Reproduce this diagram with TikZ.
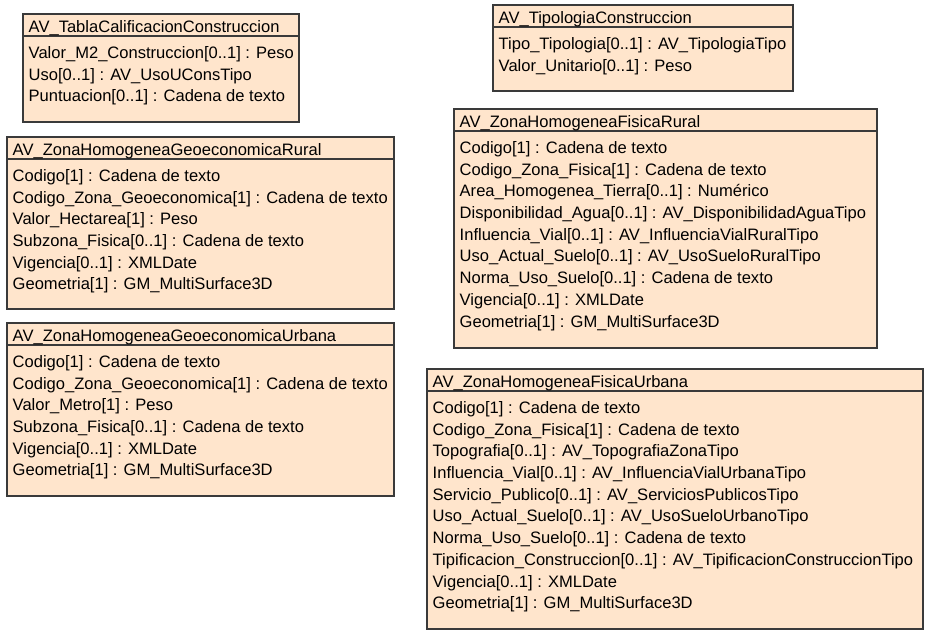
\documentclass[tikz,border=0pt]{standalone}
\usepackage{fontspec}
\setmainfont{Liberation Sans}
\definecolor{classfill}{RGB}{255,229,204}
\definecolor{classline}{RGB}{58,58,58}
\tikzset{
  cls/.style={draw=classline, fill=classfill, line width=1.2pt, anchor=north west,
    inner sep=0pt, outer sep=0pt},
  ctitle/.style={anchor=base west, inner sep=0pt, font=\fontsize{16.55}{21.7}\selectfont},
  cattr/.style={anchor=base west, inner sep=0pt, font=\fontsize{16.55}{21.7}\selectfont},
  csep/.style={draw=classline, line width=1.2pt}
}
\begin{document}
\begin{tikzpicture}[x=1pt, y=-1pt]
      \useasboundingbox (0,0) rectangle (930,636);
      % class frames
      \node[cls, minimum width=276pt, minimum height=108pt] (tabla) at (23,14) {};
      \node[cls, minimum width=387pt, minimum height=172pt] (georural) at (7,137) {};
      \node[cls, minimum width=387pt, minimum height=173pt] (geourbana) at (7,323) {};
      \node[cls, minimum width=300pt, minimum height=86pt] (tipologia) at (493,5) {};
      \node[cls, minimum width=423pt, minimum height=239pt] (fisrural) at (454,109) {};
      \node[cls, minimum width=496pt, minimum height=260pt] (fisurbana) at (427,369) {};
      % title compartments
      \begin{scope}[csep]
        \draw ([yshift=-22pt]tabla.north west) -- ([yshift=-22pt]tabla.north east);
        \draw ([yshift=-22pt]georural.north west) -- ([yshift=-22pt]georural.north east);
        \draw ([yshift=-22pt]geourbana.north west) -- ([yshift=-22pt]geourbana.north east);
        \draw ([yshift=-22pt]tipologia.north west) -- ([yshift=-22pt]tipologia.north east);
        \draw ([yshift=-22pt]fisrural.north west) -- ([yshift=-22pt]fisrural.north east);
        \draw ([yshift=-22pt]fisurbana.north west) -- ([yshift=-22pt]fisurbana.north east);
      \end{scope}
      \node[ctitle] (tablaT) at ([xshift=5.5pt, yshift=-18.3pt]tabla.north west)
        {AV\_TablaCalificacionConstruccion};
      \node[ctitle] (georuralT) at ([xshift=5.5pt, yshift=-18.3pt]georural.north west)
        {AV\_ZonaHomogeneaGeoeconomicaRural};
      \node[ctitle] (geourbanaT) at ([xshift=5.5pt, yshift=-18.3pt]geourbana.north west)
        {AV\_ZonaHomogeneaGeoeconomicaUrbana};
      \node[ctitle] (tipologiaT) at ([xshift=5.5pt, yshift=-18.3pt]tipologia.north west)
        {AV\_TipologiaConstruccion};
      \node[ctitle] (fisruralT) at ([xshift=5.5pt, yshift=-18.3pt]fisrural.north west)
        {AV\_ZonaHomogeneaFisicaRural};
      \node[ctitle] (fisurbanaT) at ([xshift=5.5pt, yshift=-18.3pt]fisurbana.north west)
        {AV\_ZonaHomogeneaFisicaUrbana};
      % attributes
      \node[cattr] (tablaA) at ([xshift=5.5pt, yshift=-44.5pt]tabla.north west)
        {\begin{tabular}[t]{@{}l@{}}
         Valor\_M2\_Construccion[0..1] : Peso\\
         Uso[0..1] : AV\_UsoUConsTipo\\
         Puntuacion[0..1] : Cadena de texto
         \end{tabular}};
      \node[cattr] (georuralA) at ([xshift=5.5pt, yshift=-44.5pt]georural.north west)
        {\begin{tabular}[t]{@{}l@{}}
         Codigo[1] : Cadena de texto\\
         Codigo\_Zona\_Geoeconomica[1] : Cadena de texto\\
         Valor\_Hectarea[1] : Peso\\
         Subzona\_Fisica[0..1] : Cadena de texto\\
         Vigencia[0..1] : XMLDate\\
         Geometria[1] : GM\_MultiSurface3D
         \end{tabular}};
      \node[cattr] (geourbanaA) at ([xshift=5.5pt, yshift=-44.5pt]geourbana.north west)
        {\begin{tabular}[t]{@{}l@{}}
         Codigo[1] : Cadena de texto\\
         Codigo\_Zona\_Geoeconomica[1] : Cadena de texto\\
         Valor\_Metro[1] : Peso\\
         Subzona\_Fisica[0..1] : Cadena de texto\\
         Vigencia[0..1] : XMLDate\\
         Geometria[1] : GM\_MultiSurface3D
         \end{tabular}};
      \node[cattr] (tipologiaA) at ([xshift=5.5pt, yshift=-44.5pt]tipologia.north west)
        {\begin{tabular}[t]{@{}l@{}}
         Tipo\_Tipologia[0..1] : AV\_TipologiaTipo\\
         Valor\_Unitario[0..1] : Peso
         \end{tabular}};
      \node[cattr] (fisruralA) at ([xshift=5.5pt, yshift=-44.5pt]fisrural.north west)
        {\begin{tabular}[t]{@{}l@{}}
         Codigo[1] : Cadena de texto\\
         Codigo\_Zona\_Fisica[1] : Cadena de texto\\
         Area\_Homogenea\_Tierra[0..1] : Numérico\\
         Disponibilidad\_Agua[0..1] : AV\_DisponibilidadAguaTipo\\
         Influencia\_Vial[0..1] : AV\_InfluenciaVialRuralTipo\\
         Uso\_Actual\_Suelo[0..1] : AV\_UsoSueloRuralTipo\\
         Norma\_Uso\_Suelo[0..1] : Cadena de texto\\
         Vigencia[0..1] : XMLDate\\
         Geometria[1] : GM\_MultiSurface3D
         \end{tabular}};
      \node[cattr] (fisurbanaA) at ([xshift=5.5pt, yshift=-44.5pt]fisurbana.north west)
        {\begin{tabular}[t]{@{}l@{}}
         Codigo[1] : Cadena de texto\\
         Codigo\_Zona\_Fisica[1] : Cadena de texto\\
         Topografia[0..1] : AV\_TopografiaZonaTipo\\
         Influencia\_Vial[0..1] : AV\_InfluenciaVialUrbanaTipo\\
         Servicio\_Publico[0..1] : AV\_ServiciosPublicosTipo\\
         Uso\_Actual\_Suelo[0..1] : AV\_UsoSueloUrbanoTipo\\
         Norma\_Uso\_Suelo[0..1] : Cadena de texto\\
         Tipificacion\_Construccion[0..1] : AV\_TipificacionConstruccionTipo\\
         Vigencia[0..1] : XMLDate\\
         Geometria[1] : GM\_MultiSurface3D
         \end{tabular}};
    \end{tikzpicture}
\end{document}
